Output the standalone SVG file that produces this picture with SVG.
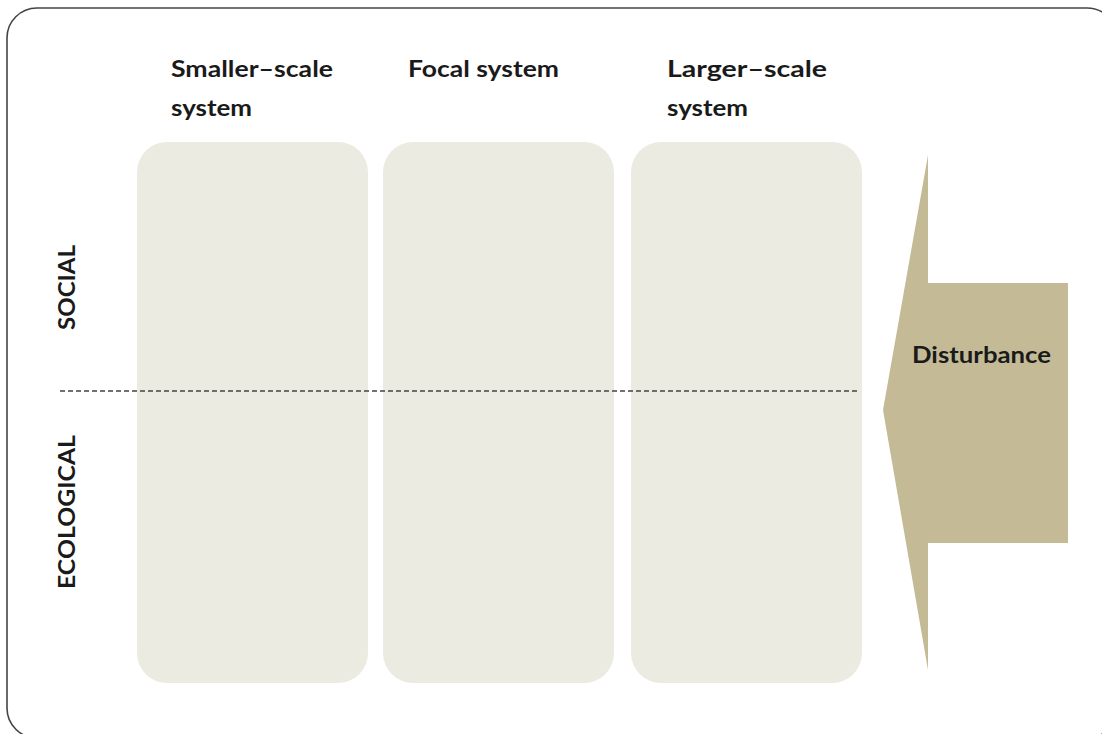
<svg xmlns="http://www.w3.org/2000/svg" width="1102" height="734" viewBox="0 0 1102 734">
<style>
.t{font-family:Lato,"Open Sans","Liberation Sans",sans-serif;font-weight:700;font-size:22px;fill:#1a1a1a}
.panel{fill:#ECEBE1}
</style>
<rect width="1102" height="734" fill="#ffffff"/>
<rect id="frame" x="7" y="8" width="1110" height="730" rx="30" ry="30" fill="none" stroke="#444" stroke-width="1.6"/>
<g id="smaller">
<rect class="panel" x="137" y="142" width="231" height="541" rx="30" ry="30"/>
<text class="t" x="171" y="77" textLength="162" lengthAdjust="spacingAndGlyphs">Smaller–scale</text>
<text class="t" x="171" y="116" textLength="81" lengthAdjust="spacingAndGlyphs">system</text>
</g>
<g id="focal">
<rect class="panel" x="383" y="142" width="231" height="541" rx="30" ry="30"/>
<text class="t" x="408" y="77" textLength="151" lengthAdjust="spacingAndGlyphs">Focal system</text>
</g>
<g id="larger">
<rect class="panel" x="631" y="142" width="231" height="541" rx="30" ry="30"/>
<text class="t" x="667" y="77" textLength="160" lengthAdjust="spacingAndGlyphs">Larger–scale</text>
<text class="t" x="667" y="116" textLength="81" lengthAdjust="spacingAndGlyphs">system</text>
</g>
<g id="labels">
<text class="t" transform="translate(75,330) rotate(-90)" textLength="85" lengthAdjust="spacingAndGlyphs">SOCIAL</text>
<text class="t" transform="translate(75,589) rotate(-90)" textLength="154" lengthAdjust="spacingAndGlyphs">ECOLOGICAL</text>
</g>
<g id="disturbance">
<polygon points="883,410 928,155 928,283 1068,283 1068,543 928,543 928,670" fill="#C4BB96"/>
<text class="t" x="912" y="363" textLength="139" lengthAdjust="spacingAndGlyphs">Disturbance</text>
</g>
<g id="connectors">
<line x1="60" y1="391" x2="860" y2="391" stroke="#444" stroke-width="1.3" stroke-dasharray="5,3"/>
</g>
</svg>
